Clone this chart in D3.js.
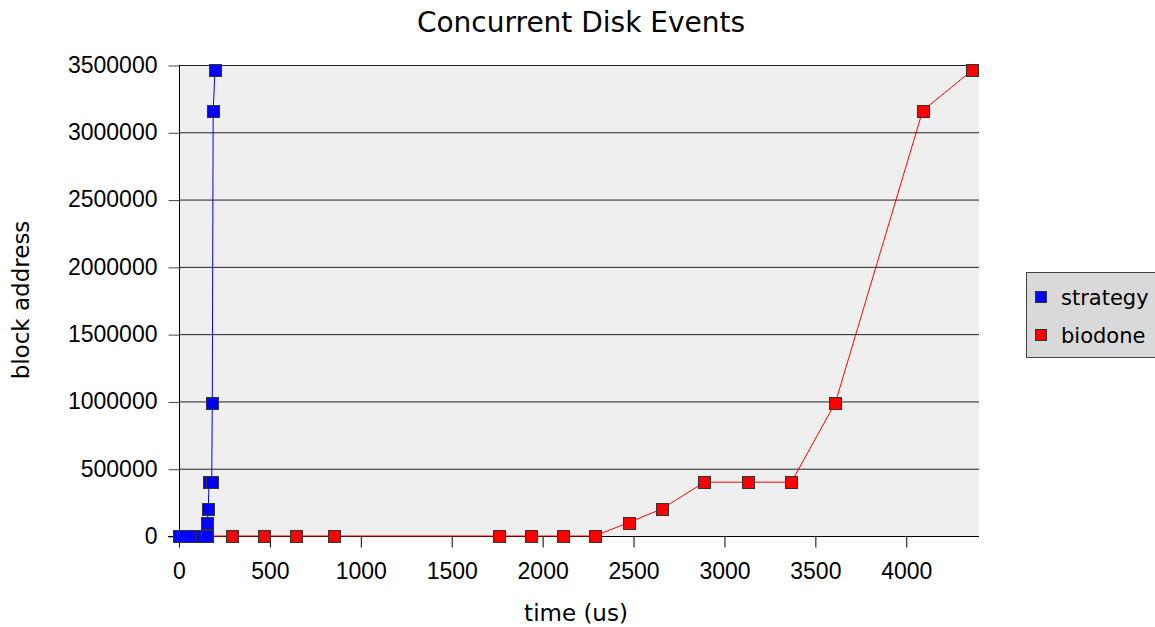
<!DOCTYPE html>
<html>
<head>
<meta charset="utf-8">
<title>Concurrent Disk Events</title>
<script src="https://d3js.org/d3.v7.min.js" charset="utf-8"></script>
<style>
  body { margin: 0; background: #fff; }
  svg { display: block; font-family: "DejaVu Sans", sans-serif; }
  .tick text { font-size: 23px; fill: #000; }
  .grid line { stroke: #222; stroke-width: 1px; }
  .series-line { fill: none; stroke-width: 1px; }
  .marker { stroke: #333; stroke-width: 1px; }
</style>
</head>
<body>
<div id="box"></div>
<script>
// data (time in us, block address)
var strategyTime  = [0, 22, 66, 125, 152, 155, 161, 165, 180, 183, 188, 198];
var strategyBlock = [0, 0, 0, 0, 0, 100000, 200000, 400000, 400000, 990000, 3160000, 3460000];

var biodoneTime  = [118, 293, 469, 645, 852, 1758, 1934, 2110, 2286, 2473, 2654, 2890, 3132, 3368, 3610, 4090, 4362];
var biodoneBlock = [0, 0, 0, 0, 0, 0, 0, 0, 0, 100000, 200000, 400000, 400000, 400000, 990000, 3160000, 3460000];

var xTicks = [0, 500, 1000, 1500, 2000, 2500, 3000, 3500, 4000];
var yTicks = [0, 500000, 1000000, 1500000, 2000000, 2500000, 3000000, 3500000];

var seriesNames  = ["strategy", "biodone"];
var seriesColors = ["#0000ff", "#ff0000"];

var W = 1155, H = 627;
var mLeft = 179, mRight = 979, mTop = 65, mBottom = 536;

var svg = d3.select('#box').append('svg').attr('width', W).attr('height', H);

var x = d3.scaleLinear().domain([0, 4400]).range([mLeft, mRight]);
var y = d3.scaleLinear().domain([0, 3500000]).range([mBottom, mTop]);

// plot background
svg.append('rect')
  .attr('x', mLeft).attr('y', mTop)
  .attr('width', mRight - mLeft).attr('height', mBottom - mTop)
  .attr('fill', '#efefef');

// horizontal grid
svg.append('g').attr('class', 'grid')
  .selectAll('line').data(yTicks).enter().append('line')
  .attr('x1', mLeft).attr('x2', mRight)
  .attr('y1', d => y(d) + 0.5).attr('y2', d => y(d) + 0.5);

// y axis
var yAxis = svg.append('g')
  .attr('transform', `translate(${mLeft + 0.5},0)`)
  .call(d3.axisLeft(y).tickValues(yTicks).tickFormat(d3.format('d')).tickSize(11).tickPadding(11));
yAxis.select('.domain').remove();
yAxis.selectAll('.tick line').attr('stroke', '#444').attr('transform', 'translate(0,0.5)');
yAxis.append('line').attr('x1', 0).attr('x2', 0).attr('y1', mTop).attr('y2', mBottom + 11).attr('stroke', '#000');

// x axis
var xAxis = svg.append('g')
  .attr('transform', `translate(0,${mBottom + 0.5})`)
  .call(d3.axisBottom(x).tickValues(xTicks).tickFormat(d3.format('d')).tickSize(11).tickPadding(15));
xAxis.select('.domain').remove();
xAxis.selectAll('.tick line').attr('stroke', '#000');
xAxis.append('line').attr('x1', mLeft - 11).attr('x2', mRight).attr('y1', 0).attr('y2', 0).attr('stroke', '#000');

// series: biodone drawn first, strategy on top
var series = [
  {name: seriesNames[1], color: seriesColors[1], t: biodoneTime, b: biodoneBlock},
  {name: seriesNames[0], color: seriesColors[0], t: strategyTime, b: strategyBlock}
];
var line = d3.line().x(d => x(d[0])).y(d => y(d[1]));

series.forEach(function(s) {
  var pts = s.t.map((t, i) => [t, s.b[i]]);
  svg.append('path').attr('class', 'series-line')
    .attr('stroke', s.color)
    .attr('d', line(pts));
  svg.append('g').selectAll('rect').data(pts).enter().append('rect')
    .attr('class', 'marker')
    .attr('x', d => Math.round(x(d[0])) - 5.5)
    .attr('y', d => Math.round(y(d[1])) - 5.5)
    .attr('width', 12).attr('height', 12)
    .attr('fill', s.color);
});

// titles
svg.append('text')
  .attr('x', 581).attr('y', 32)
  .attr('text-anchor', 'middle')
  .style('font-size', '28px')
  .text('Concurrent Disk Events');

svg.append('text')
  .attr('x', 576).attr('y', 621)
  .attr('text-anchor', 'middle')
  .style('font-size', '23px')
  .text('time (us)');

svg.append('text')
  .attr('transform', 'translate(29,300) rotate(-90)')
  .attr('text-anchor', 'middle')
  .style('font-size', '23px')
  .text('block address');

// legend
var legend = svg.append('g');
legend.append('rect')
  .attr('x', 1026.5).attr('y', 272.5)
  .attr('width', 140).attr('height', 85)
  .attr('fill', '#d9d9d9').attr('stroke', '#444');
seriesNames.forEach(function(name, i) {
  legend.append('rect')
    .attr('x', 1035.5).attr('y', 291.5 + i * 38)
    .attr('width', 11).attr('height', 11)
    .attr('fill', seriesColors[i]).attr('stroke', '#333');
  legend.append('text')
    .attr('x', 1061).attr('y', 305 + i * 38)
    .style('font-size', '21px')
    .text(name);
});
</script>
</body>
</html>
